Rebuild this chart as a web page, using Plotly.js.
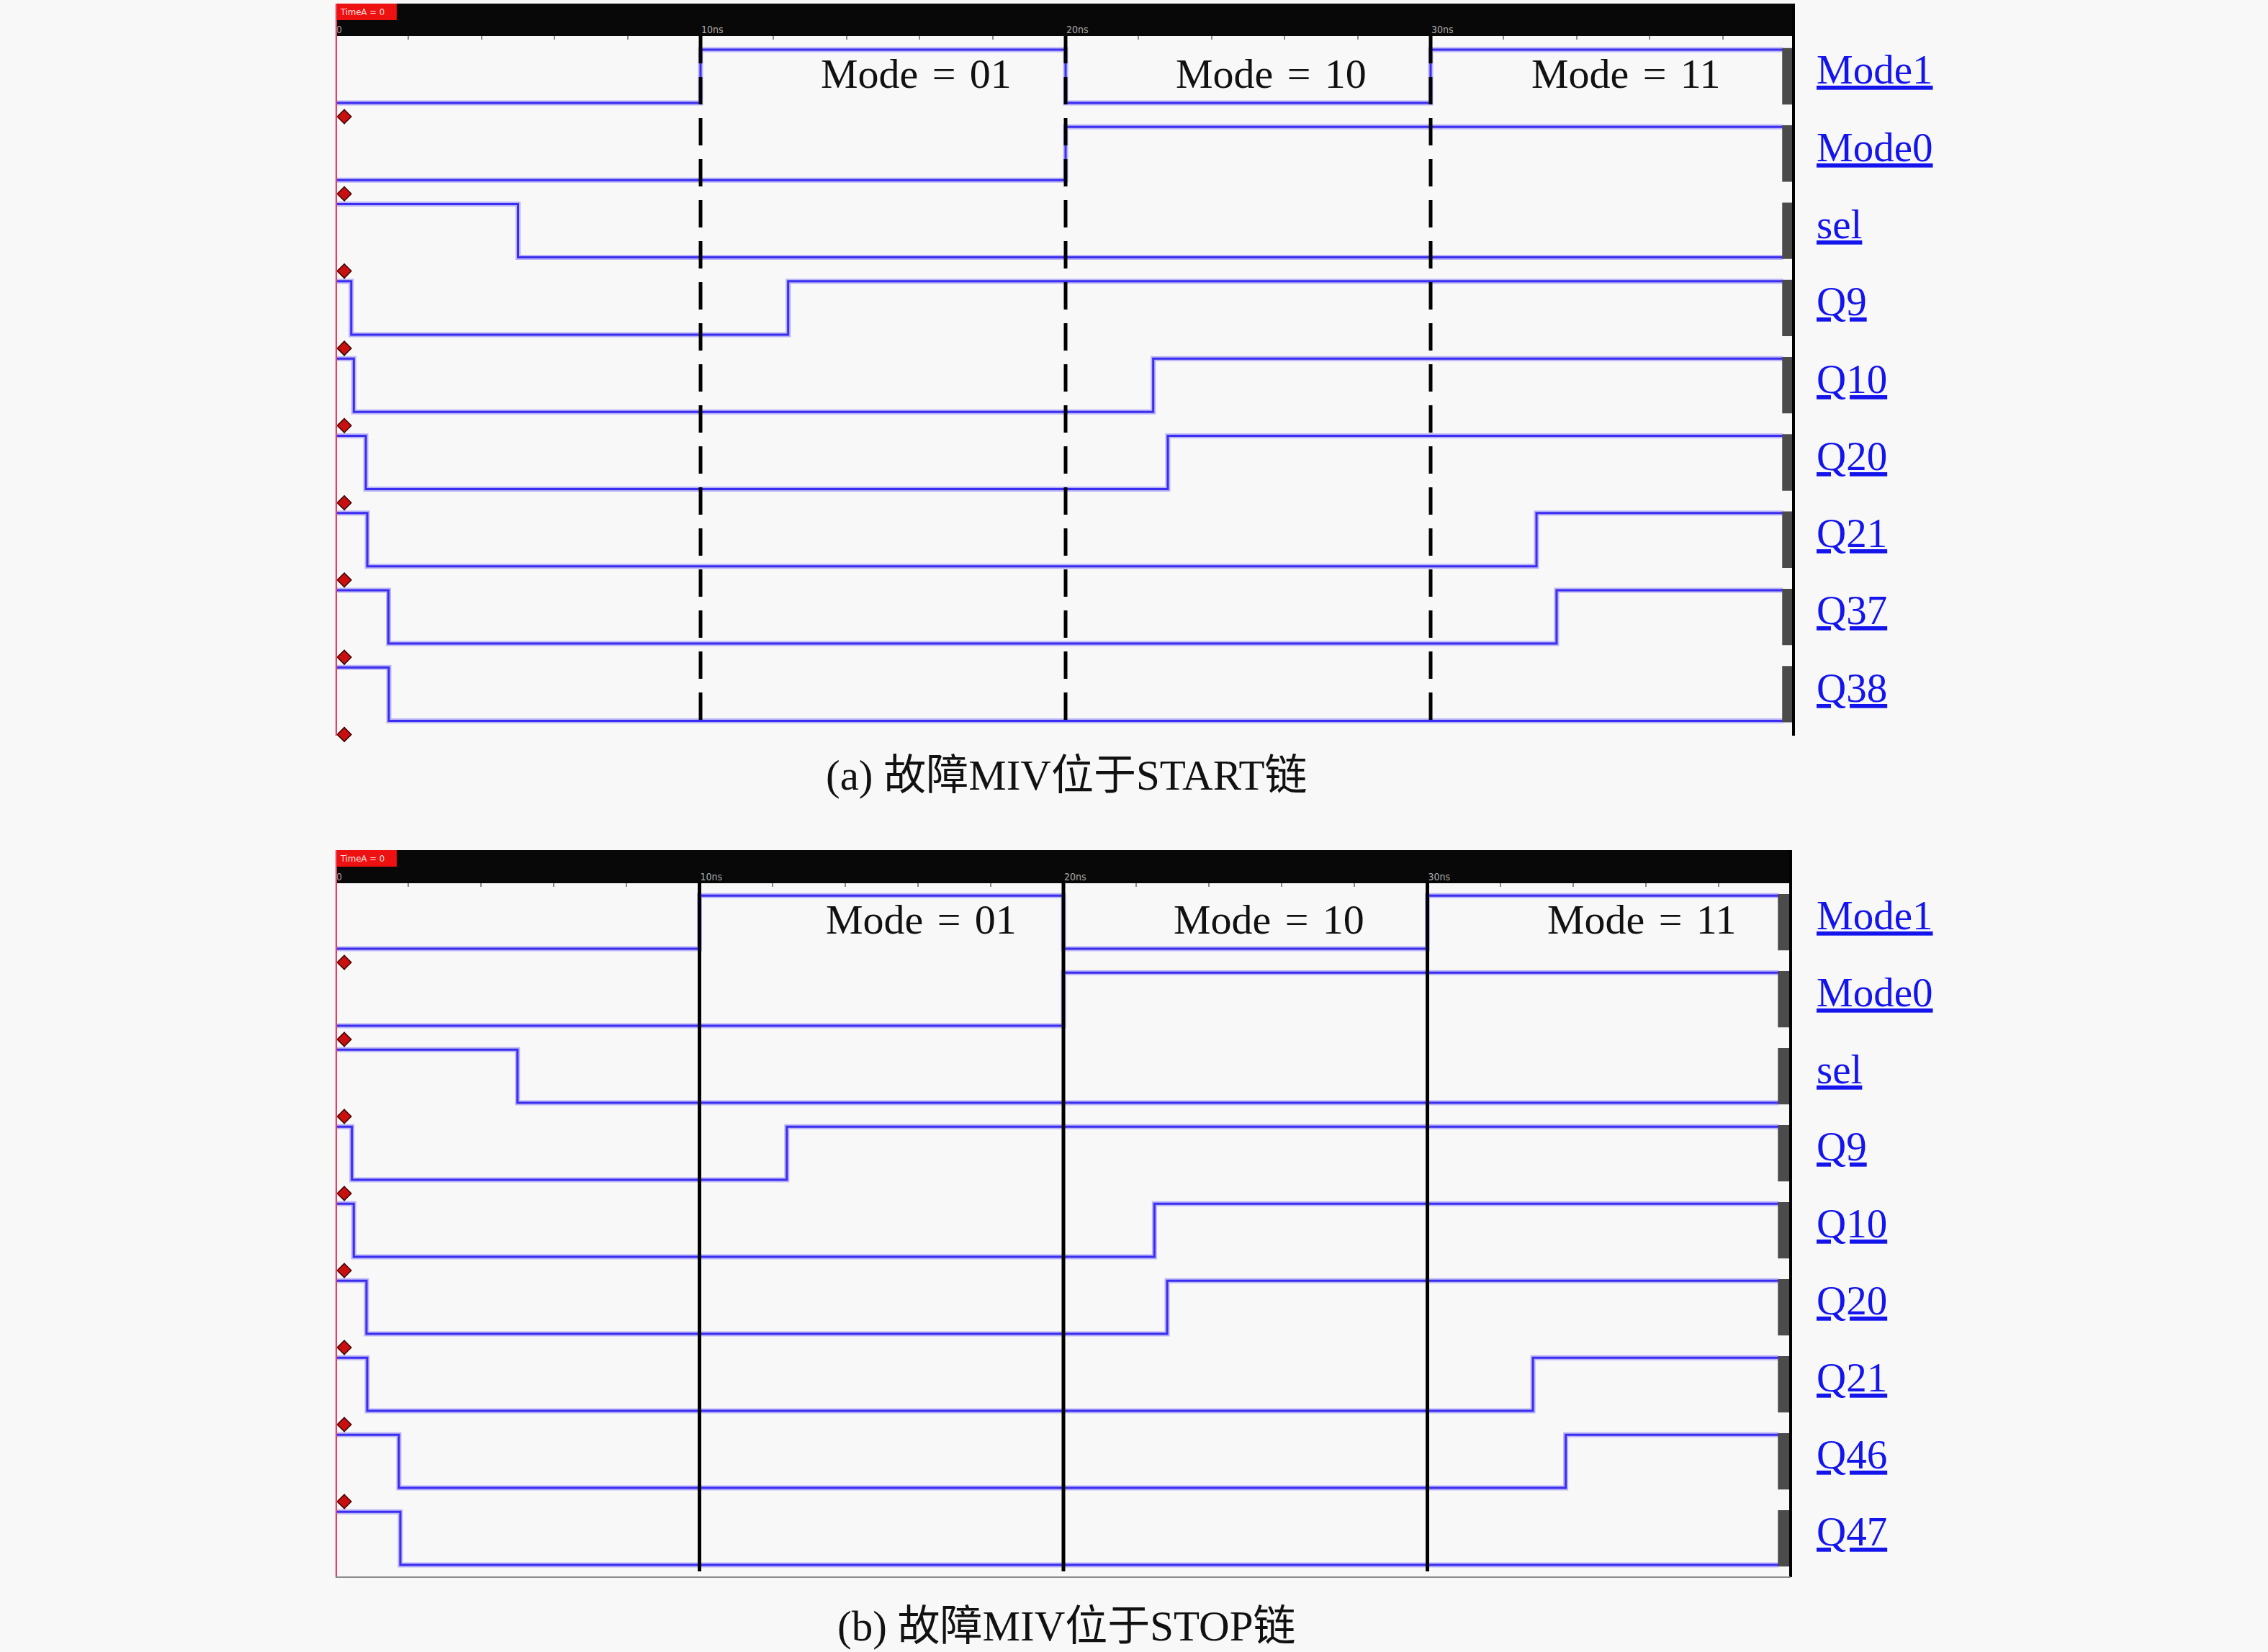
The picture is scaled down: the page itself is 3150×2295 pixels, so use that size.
<!DOCTYPE html>
<html>
<head>
<meta charset="utf-8">
<script src="https://cdn.plot.ly/plotly-3.0.1.min.js"></script>
<style>
  html, body { margin: 0; padding: 0; background: #f8f8f8; }
  #plot { width: 3150px; height: 2295px; }
</style>
</head>
<body>
<div id="plot"></div>
<script>
// ---- data ------------------------------------------------------------------
// signal names (top to bottom), level at t=0, and toggle times (ns)
const namesA = ['Mode1', 'Mode0', 'sel', 'Q9', 'Q10', 'Q20', 'Q21', 'Q37', 'Q38'];
const startA = [0, 0, 1, 1, 1, 1, 1, 1, 1];
const edgesA = [[10, 20, 30], [20], [5], [0.43, 12.4], [0.5, 22.4], [0.83, 22.8], [0.87, 32.9], [1.45, 33.45], [1.46]];

const namesB = ['Mode1', 'Mode0', 'sel', 'Q9', 'Q10', 'Q20', 'Q21', 'Q46', 'Q47'];
const startB = [0, 0, 1, 1, 1, 1, 1, 1, 1];
const edgesB = [[10, 20, 30], [20], [5], [0.45, 12.4], [0.5, 22.5], [0.85, 22.85], [0.87, 32.9], [1.74, 33.8], [1.78]];

const modeBounds = [10, 20, 30];
const modeLabels = ['Mode\u2004=\u200401', 'Mode\u2004=\u200410', 'Mode\u2004=\u200411'];
const tickVals = [0, 10, 20, 30];
const tickText = ['0', '10ns', '20ns', '30ns'];
const captions = ['(a) 故障MIV位于START链', '(b) 故障MIV位于STOP链'];
const tEnd = 39.65;

// ---- geometry ----------------------------------------------------------------
const W = 3150, H = 2295;
const HIGH = 0.69;          // height of a "1" level, in row units
const px2x = p => p / W;
const px2y = p => 1 - p / H;

const panels = [
  {xa: 'x',  ya: 'y',  names: namesA, start: startA, edges: edgesA, left: 466, right: 2491,
   head: 5,    top: 50,   bottom: 1022, row0: 143,  pitch: 107.3, pxNs: 50.7,  dashed: true,
   lineEnd: 1003, modeX: [15.9, 25.64, 35.35], modeY: 103,  capY: 1077, bottomLine: false},
  {xa: 'x2', ya: 'y2', names: namesB, start: startB, edges: edgesB, left: 466, right: 2487,
   head: 1181, top: 1227, bottom: 2191, row0: 1318, pitch: 107,   pxNs: 50.55, dashed: false,
   lineEnd: 2183, modeX: [16.1, 25.64, 35.9],  modeY: 1277, capY: 2259, bottomLine: true}
];

const traces = [];
const shapes = [];
const annotations = [];
const layout = {
  width: W, height: H,
  margin: {l: 0, r: 0, t: 0, b: 0},
  paper_bgcolor: '#f8f8f8',
  plot_bgcolor: '#f8f8f8',
  showlegend: false,
  hovermode: false
};

let minorTicks = [];
for (let t = 2; t < 40; t += 2) { if (t % 10 !== 0) minorTicks.push(t); }

panels.forEach((p, k) => {
  const yv = px => -(px - p.row0) / p.pitch;
  const xmax = (p.right - p.left) / p.pxNs;
  const xKey = k === 0 ? 'xaxis' : 'xaxis2';
  const yKey = k === 0 ? 'yaxis' : 'yaxis2';

  layout[xKey] = {
    domain: [px2x(p.left), px2x(p.right)], range: [0, xmax], anchor: p.ya, side: 'top',
    showgrid: false, zeroline: false, showline: false, fixedrange: true,
    tickmode: 'array', tickvals: tickVals, ticktext: tickText,
    ticks: 'inside', ticklen: 6, tickwidth: 2, tickcolor: '#8a8a8a',
    ticklabelposition: 'outside right',
    tickfont: {family: 'DejaVu Sans Condensed', size: 14, color: '#a8a8a8'},
    minor: {tickvals: minorTicks, ticks: 'inside', ticklen: 5, tickwidth: 2, tickcolor: '#8a8a8a'}
  };
  layout[yKey] = {
    domain: [px2y(p.bottom), px2y(p.top)], range: [yv(p.bottom), yv(p.top)], anchor: p.xa,
    visible: false, fixedrange: true
  };

  // waveforms
  p.names.forEach((name, i) => {
    let xs = [0], ys = [], lv = p.start[i];
    ys.push(-i + HIGH * lv);
    p.edges[i].forEach(t => { lv = 1 - lv; xs.push(t); ys.push(-i + HIGH * lv); });
    xs.push(tEnd); ys.push(-i + HIGH * lv);
    traces.push({x: xs, y: ys, xaxis: p.xa, yaxis: p.ya, type: 'scatter', mode: 'lines',
      line: {shape: 'hv', color: 'rgba(135,125,245,0.55)', width: 7}});
    traces.push({x: xs, y: ys, xaxis: p.xa, yaxis: p.ya, type: 'scatter', mode: 'lines',
      line: {shape: 'hv', color: '#3b2ef0', width: 3}});

    // grey value box at the right end
    shapes.push({type: 'rect', xref: p.xa, yref: p.ya, x0: tEnd - 0.02, x1: xmax - 0.03,
      y0: -i - 0.02, y1: -i + HIGH + 0.02, fillcolor: '#4b4b4b', line: {width: 0}, layer: 'above'});

    // signal label
    annotations.push({xref: 'paper', yref: p.ya, x: px2x(2521), y: -i + 0.43,
      xanchor: 'left', yanchor: 'middle', showarrow: false, text: name,
      font: {family: 'Liberation Serif', size: 57, color: '#1414ec', lineposition: 'under'}});
  });

  // red cursor markers
  let mx = [], my = [];
  for (let i = 0; i < p.names.length; i++) { mx.push(0.24); my.push(-i - 0.177); }
  traces.push({x: mx, y: my, xaxis: p.xa, yaxis: p.ya, type: 'scatter', mode: 'markers',
    cliponaxis: false,
    marker: {symbol: 'diamond', size: 15, color: '#c81010', line: {color: '#3a0000', width: 1.5}}});

  // header bar
  shapes.push({type: 'rect', xref: 'paper', yref: 'paper', x0: px2x(p.left), x1: px2x(p.right + 2),
    y0: px2y(p.top), y1: px2y(p.head), fillcolor: '#080808', line: {width: 0}, layer: 'below'});
  shapes.push({type: 'rect', xref: 'paper', yref: 'paper', x0: px2x(p.left), x1: px2x(p.left + 85),
    y0: px2y(p.head + 23), y1: px2y(p.head), fillcolor: '#ee1111', line: {width: 0}, layer: 'below'});
  annotations.push({xref: 'paper', yref: 'paper', x: px2x(p.left + 4), y: px2y(p.head + 11.5),
    xanchor: 'left', yanchor: 'middle', showarrow: false, text: 'TimeA = 0',
    font: {family: 'DejaVu Sans Condensed', size: 13, color: '#ffdddd'}});

  // left cursor line and right border
  shapes.push({type: 'line', xref: 'paper', yref: 'paper', x0: px2x(p.left + 1), x1: px2x(p.left + 1),
    y0: px2y(p.head), y1: px2y(p.bottom), line: {color: '#e8405c', width: 2}, layer: 'above'});
  shapes.push({type: 'line', xref: 'paper', yref: 'paper', x0: px2x(p.right), x1: px2x(p.right),
    y0: px2y(p.head), y1: px2y(p.bottom), line: {color: '#000', width: 4}, layer: 'above'});
  if (p.bottomLine) {
    shapes.push({type: 'line', xref: 'paper', yref: 'paper', x0: px2x(p.left), x1: px2x(p.right),
      y0: px2y(p.bottom), y1: px2y(p.bottom), line: {color: '#8c8c8c', width: 2}, layer: 'above'});
  }

  // mode boundaries
  modeBounds.forEach(t => {
    shapes.push({type: 'line', xref: p.xa, yref: p.ya, x0: t, x1: t, y0: yv(p.top), y1: yv(p.lineEnd),
      line: {color: '#000', width: 5, dash: p.dashed ? '38px,19px' : 'solid'}, layer: 'above'});
  });
  modeLabels.forEach((s, j) => {
    annotations.push({xref: p.xa, yref: p.ya, x: p.modeX[j], y: yv(p.modeY),
      xanchor: 'center', yanchor: 'middle', showarrow: false, text: s,
      font: {family: 'Liberation Serif', size: 58, color: '#111'}});
  });

  // caption
  annotations.push({xref: 'paper', yref: 'paper', x: px2x(1481), y: px2y(p.capY),
    xanchor: 'center', yanchor: 'middle', showarrow: false, text: captions[k],
    font: {family: 'Liberation Serif, Noto Sans CJK SC', size: 59, color: '#111'}});
});

layout.shapes = shapes;
layout.annotations = annotations;

Plotly.newPlot('plot', traces, layout, {displayModeBar: false, staticPlot: true});
</script>
</body>
</html>
